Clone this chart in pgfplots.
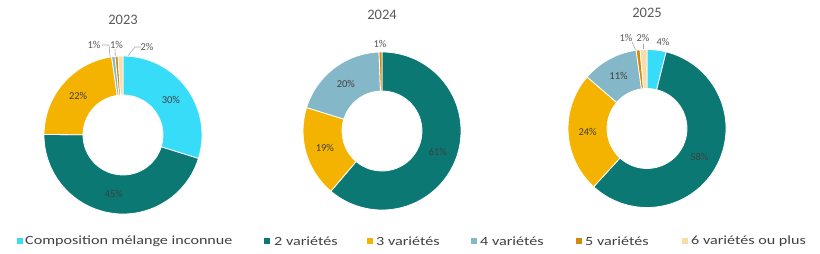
\documentclass[border=0pt]{standalone}
\usepackage{pgfplots}
\usepackage{pgfplotstable}
\pgfplotsset{compat=1.18}
\usepackage{fontspec}
\setmainfont{Carlito}
\newfontfamily\legfont[FakeStretch=1.29]{Carlito}
\usetikzlibrary{calc}

\definecolor{cA}{HTML}{36DCF8}
\definecolor{cB}{HTML}{0B7873}
\definecolor{cC}{HTML}{F5B301}
\definecolor{cD}{HTML}{84B8C8}
\definecolor{cE}{HTML}{D4880C}
\definecolor{cF}{HTML}{FADCAA}
\definecolor{titlegray}{HTML}{595959}
\definecolor{labgray}{HTML}{404040}
\definecolor{leadgray}{HTML}{A6A6A6}

% v = share (%), c = colour, lab = printed label, pos = 0 inside / 1 outside, lx ly = outside label position (image px)
\pgfplotstableread{
v c lab pos lx ly
29.8 cA 30 0 0 0
45.3 cB 45 0 0 0
22.6 cC 22 0 0 0
0.7 cD 1 1 94 45
0.6 cE 1 1 116.5 45
1.0 cF 2 1 147 47
}\tabA

\pgfplotstableread{
v c lab pos lx ly
61.2 cB 61 0 0 0
18.6 cC 19 0 0 0
19.6 cD 20 0 0 0
0.6 cE 1 1 380 44
}\tabB

\pgfplotstableread{
v c lab pos lx ly
3.9 cA 4 1 663 42
57.9 cB 58 0 0 0
24.5 cC 24 0 0 0
11.5 cD 11 0 0 0
0.8 cE 1 1 626 38
1.4 cF 2 1 643 38
}\tabC

\newcommand\donut[3]{%
  \pgfmathsetmacro\cy{254-#3}%
  \def\cum{0}%
  \pgfplotstablegetrowsof{#1}\pgfmathtruncatemacro\nlast{\pgfplotsretval-1}%
  \pgfplotsforeachungrouped \i in {0,...,\nlast}{%
    \pgfplotstablegetelem{\i}{v}\of{#1}\let\val\pgfplotsretval
    \pgfplotstablegetelem{\i}{c}\of{#1}\let\col\pgfplotsretval
    \pgfplotstablegetelem{\i}{lab}\of{#1}\let\lab\pgfplotsretval
    \pgfplotstablegetelem{\i}{pos}\of{#1}\let\pos\pgfplotsretval
    \pgfplotstablegetelem{\i}{lx}\of{#1}\let\lx\pgfplotsretval
    \pgfplotstablegetelem{\i}{ly}\of{#1}\let\ly\pgfplotsretval
    \pgfmathsetmacro\aA{90-3.6*\cum}%
    \pgfmathsetmacro\aB{90-3.6*(\cum+\val)}%
    \pgfmathsetmacro\aM{(\aA+\aB)/2}%
    \fill[\col,draw=white,line width=0.8pt]
      ([shift={(\aA:79pt)}]#2,\cy) arc[start angle=\aA,end angle=\aB,radius=79pt]
      -- ([shift={(\aB:40pt)}]#2,\cy) arc[start angle=\aB,end angle=\aA,radius=40pt] -- cycle;
    \ifnum\pos=0
      \node[font=\fontsize{10.5}{12}\selectfont,text=labgray,inner sep=0pt] at ([shift={(\aM:59.5pt)}]#2,\cy) {\lab\%};
    \else
      \pgfmathsetmacro\lyy{254-\ly}%
      \node[font=\fontsize{10.5}{12}\selectfont,text=titlegray,inner sep=0pt] at (\lx,\lyy) {\lab\%};
    \fi
    \pgfmathsetmacro\cum{\cum+\val}%
  }%
}

\begin{document}
\begin{tikzpicture}
\begin{axis}[
  x=1pt, y=1pt,
  xmin=0, xmax=820, ymin=0, ymax=254,
  hide axis, clip=false, scale only axis,
]
\pgfplotsextra{%
  \path (0,0) rectangle (820,254);
  % leader lines
  \draw[leadgray,line width=0.6pt] (102,209) -- (109,209) -- (111,187);
  \draw[leadgray,line width=0.6pt] (115,205) -- (116,187);
  \draw[leadgray,line width=0.6pt] (141,207) -- (135,207) -- (120,188);
  \draw[leadgray,line width=0.6pt] (632,212) -- (638,199);
  \draw[leadgray,line width=0.6pt] (643,210) -- (643,195);
  \donut{\tabA}{123}{135}
  \donut{\tabB}{382}{131}
  \donut{\tabC}{647}{128.5}
  % titles
  \node[font=\fontsize{14.5}{16}\selectfont,text=titlegray] at (123,234) {2023};
  \node[font=\fontsize{14.5}{16}\selectfont,text=titlegray] at (382,239) {2024};
  \node[font=\fontsize{14.5}{16}\selectfont,text=titlegray] at (647,241) {2025};
  % legend
  \foreach \mx/\tx/\cc/\lt in {20/25/cA/Composition mélange inconnue, 267/274/cB/2 variétés, 370/376/cC/3 variétés, 474/480/cD/4 variétés, 579/585/cE/5 variétés, 685/691/cF/6 variétés ou plus}{
    \fill[\cc] (\mx-2.75,13-2.75) rectangle (\mx+2.75,13+2.75);
    \node[anchor=west,inner sep=0pt,font=\legfont\fontsize{12.5}{14}\selectfont,text=labgray] at (\tx,13) {\lt};
  }
}
\end{axis}
\end{tikzpicture}
\end{document}
